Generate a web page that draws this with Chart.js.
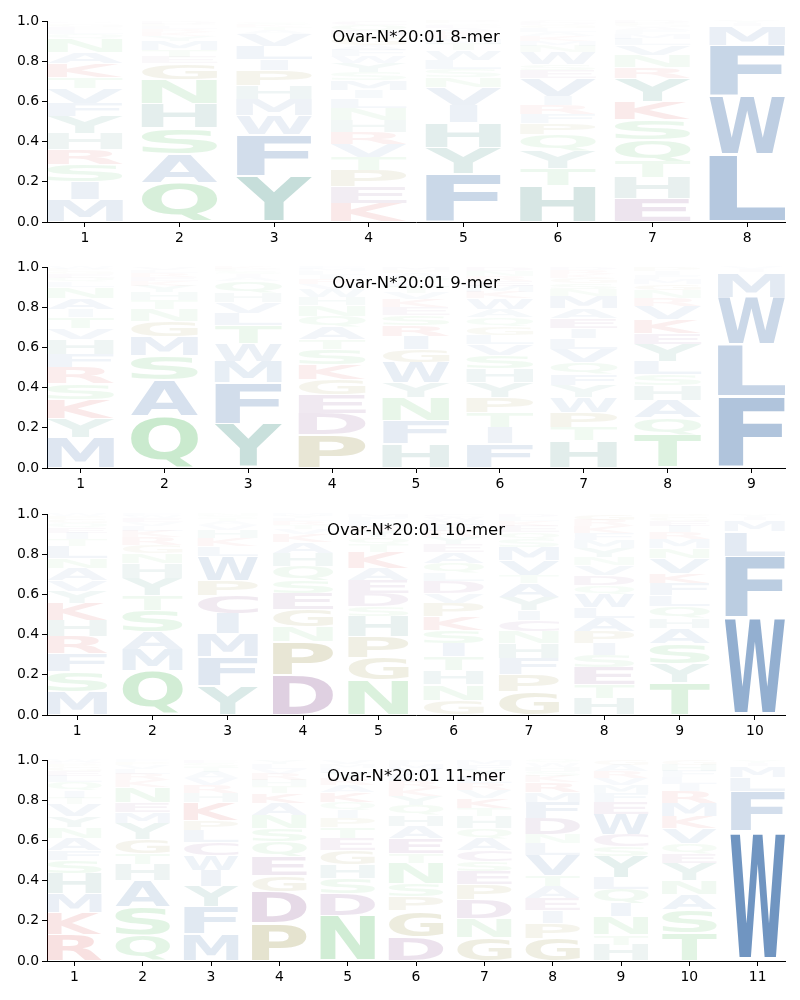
<!DOCTYPE html>
<html>
<head>
<meta charset="utf-8">
<script src="https://cdn.jsdelivr.net/npm/chart.js@4.4.1/dist/chart.umd.min.js"></script>
<style>
  body { margin:0; background:#fff; width:800px; height:1000px; position:relative; overflow:hidden; }
  canvas { position:absolute; left:0; }
</style>
</head>
<body>
<canvas id="c0" width="800" height="246" style="top:0px"></canvas>
<canvas id="c1" width="800" height="246" style="top:246px"></canvas>
<canvas id="c2" width="800" height="246" style="top:493px"></canvas>
<canvas id="c3" width="800" height="246" style="top:739px"></canvas>
<script>
const panelTitles = ['Ovar-N*20:01 8-mer', 'Ovar-N*20:01 9-mer', 'Ovar-N*20:01 10-mer', 'Ovar-N*20:01 11-mer'];

const letters8 = ['MISRHYFVTKANQLEGPDW', 'QASHNGETMYKRLPDV', 'YFWMHPILVATKSRG', 'KEPTVRHNLIMSYWFAGDQC',
  'FYHIVNSLWTMRKAEQP', 'HTYQPFRIVESWNMKALGDC', 'EHTQSKYRNVLMFAGPD', 'LWFMIY'];
const heights8 = [
  [0.11,0.09,0.085,0.075,0.08,0.085,0.065,0.075,0.055,0.07,0.055,0.065,0.025,0.02,0.015,0.012,0.008,0.006,0.004],
  [0.195,0.145,0.13,0.12,0.12,0.08,0.03,0.035,0.045,0.025,0.02,0.015,0.015,0.01,0.01,0.005],
  [0.23,0.205,0.095,0.08,0.07,0.075,0.055,0.065,0.06,0.02,0.015,0.01,0.01,0.005,0.005],
  [0.095,0.08,0.08,0.065,0.065,0.06,0.06,0.06,0.05,0.04,0.05,0.04,0.045,0.035,0.03,0.025,0.04,0.03,0.03,0.02],
  [0.24,0.13,0.125,0.085,0.09,0.05,0.04,0.045,0.05,0.03,0.025,0.02,0.02,0.015,0.015,0.01,0.01],
  [0.18,0.085,0.09,0.08,0.055,0.045,0.045,0.045,0.09,0.04,0.03,0.06,0.03,0.025,0.025,0.02,0.02,0.015,0.01,0.01],
  [0.115,0.105,0.08,0.11,0.1,0.09,0.115,0.055,0.06,0.05,0.03,0.025,0.02,0.015,0.01,0.01,0.01],
  [0.335,0.295,0.25,0.095,0.015,0.01]
];

const letters9 = ['MYKSRFHVTIANLQEGPW', 'QASMGNTHYKERLV', 'YFMWTLVHQAISPK', 'PDEGKSTAQNHWVRILMF',
  'HFNYWGIRSEKVTLQAPM', 'FITPYHSVLGQAWKMERND', 'HTPWYFQVLIEAMNSGKRD', 'TQAHSLYEKVRNGMFIP', 'FLWMIV'];
const heights9 = [
  [0.15,0.095,0.095,0.08,0.08,0.065,0.075,0.055,0.055,0.04,0.055,0.055,0.025,0.02,0.02,0.015,0.01,0.01],
  [0.26,0.18,0.12,0.095,0.075,0.06,0.045,0.04,0.03,0.025,0.02,0.02,0.015,0.015],
  [0.22,0.205,0.105,0.09,0.09,0.06,0.055,0.045,0.06,0.02,0.015,0.015,0.01,0.01],
  [0.165,0.105,0.095,0.075,0.075,0.075,0.05,0.06,0.055,0.055,0.04,0.04,0.025,0.025,0.02,0.02,0.01,0.01],
  [0.12,0.115,0.115,0.075,0.1,0.065,0.065,0.055,0.05,0.04,0.04,0.03,0.03,0.025,0.025,0.02,0.015,0.015],
  [0.12,0.08,0.075,0.075,0.075,0.07,0.065,0.055,0.045,0.045,0.045,0.04,0.055,0.03,0.03,0.025,0.025,0.025,0.02],
  [0.135,0.065,0.075,0.075,0.06,0.055,0.06,0.065,0.055,0.05,0.05,0.05,0.06,0.035,0.03,0.025,0.02,0.02,0.015],
  [0.165,0.085,0.085,0.075,0.055,0.065,0.085,0.055,0.07,0.065,0.04,0.04,0.03,0.025,0.02,0.02,0.02],
  [0.355,0.26,0.235,0.125,0.015,0.01]
];

const letters10 = ['MSFRHKYVANLTIEQGPW', 'QMASTYHNGRKLVEWF', 'YFMICPWLKHVATSN', 'DPNGESQHAKVTRLYM',
  'NGPHSDEAKTQYRLFM', 'GNHTISKPVDLQAEYRFMWC', 'GPFHNCIYATVMSQEKLD', 'HTESIPALWQDVNYMFKRG',
  'TYSAHQLFKVNMRIEGP', 'WFLMIYV'];
const heights10 = [
  [0.115,0.1,0.09,0.085,0.08,0.085,0.06,0.055,0.06,0.05,0.06,0.035,0.03,0.025,0.025,0.02,0.015,0.01],
  [0.22,0.105,0.09,0.105,0.075,0.085,0.075,0.05,0.04,0.04,0.03,0.025,0.02,0.02,0.01,0.01],
  [0.145,0.145,0.115,0.1,0.09,0.075,0.12,0.05,0.04,0.04,0.025,0.02,0.015,0.01,0.01],
  [0.2,0.165,0.075,0.085,0.08,0.065,0.07,0.065,0.055,0.04,0.025,0.02,0.02,0.015,0.01,0.01],
  [0.175,0.11,0.105,0.1,0.05,0.065,0.065,0.06,0.08,0.04,0.035,0.03,0.025,0.025,0.02,0.015],
  [0.075,0.075,0.07,0.07,0.065,0.065,0.07,0.065,0.05,0.06,0.04,0.05,0.055,0.04,0.035,0.03,0.03,0.025,0.015,0.015],
  [0.115,0.085,0.08,0.075,0.06,0.055,0.05,0.065,0.07,0.04,0.075,0.065,0.04,0.035,0.03,0.025,0.02,0.015],
  [0.085,0.065,0.085,0.06,0.06,0.06,0.065,0.055,0.065,0.045,0.05,0.05,0.04,0.045,0.04,0.035,0.035,0.03,0.03],
  [0.16,0.095,0.1,0.075,0.05,0.06,0.055,0.06,0.05,0.075,0.05,0.045,0.035,0.03,0.025,0.02,0.015],
  [0.485,0.305,0.125,0.055,0.015,0.01,0.005]
];

const letters11 = ['RKMHSFANYVTIQLEGPDW', 'QSAHTGYMENKRLVPF', 'MFYIWCLPKHRVATSE', 'PDGEQSNAKTHRVLY',
  'NDSHGETPIQKARYLMV', 'DGPSNTEAHQYKRLVMF', 'GNDPESCAQHTKVRLYFM', 'GPIEATVLNDFMRKSHWQ',
  'HTNIQLYSCWEFMVRAG', 'TSANYEQVKMRILFHG', 'WFLMIY'];
const heights11 = [
  [0.13,0.11,0.095,0.1,0.065,0.05,0.06,0.055,0.055,0.06,0.03,0.035,0.045,0.03,0.025,0.02,0.015,0.01,0.01],
  [0.13,0.14,0.13,0.08,0.055,0.07,0.08,0.055,0.05,0.075,0.035,0.03,0.025,0.02,0.015,0.01],
  [0.135,0.135,0.1,0.08,0.075,0.065,0.06,0.05,0.09,0.045,0.04,0.035,0.03,0.025,0.02,0.015],
  [0.19,0.155,0.08,0.095,0.075,0.065,0.065,0.06,0.05,0.035,0.03,0.03,0.025,0.025,0.02],
  [0.225,0.11,0.075,0.07,0.07,0.06,0.055,0.045,0.04,0.04,0.05,0.035,0.03,0.03,0.025,0.02,0.02],
  [0.12,0.13,0.07,0.065,0.1,0.05,0.075,0.06,0.055,0.05,0.045,0.04,0.035,0.03,0.03,0.025,0.02],
  [0.115,0.095,0.095,0.075,0.065,0.05,0.055,0.06,0.05,0.06,0.04,0.05,0.04,0.035,0.035,0.03,0.025,0.025],
  [0.115,0.075,0.06,0.06,0.06,0.055,0.1,0.06,0.045,0.08,0.08,0.05,0.05,0.03,0.025,0.02,0.02,0.015],
  [0.08,0.05,0.09,0.065,0.07,0.06,0.105,0.05,0.06,0.1,0.06,0.045,0.04,0.035,0.035,0.03,0.025],
  [0.14,0.115,0.075,0.07,0.085,0.05,0.05,0.075,0.06,0.065,0.06,0.035,0.035,0.03,0.03,0.025],
  [0.645,0.2,0.07,0.055,0.015,0.015]
];

const yTicks = [0, 0.2, 0.4, 0.6, 0.8, 1.0];

// residue colour groups (drawn with alpha = frequency)
const groupColors = {
  blue: [33, 90, 158], green: [50, 175, 65], red: [200, 25, 25],
  purple: [95, 20, 105], olive: [115, 105, 0], teal: [10, 112, 95], tealH: [35, 118, 108]
};
const residueGroup = {
  A:'blue', C:'purple', D:'purple', E:'purple', F:'blue', G:'olive', H:'tealH', I:'blue', K:'red', L:'blue',
  M:'blue', N:'green', P:'olive', Q:'green', R:'red', S:'green', T:'green', V:'blue', W:'blue', Y:'teal'
};
function colorFor(ch, h){
  const c = groupColors[residueGroup[ch]] || [120,120,120];
  return `rgba(${c[0]},${c[1]},${c[2]},${Math.min(1, h)})`;
}

const GLYPH_FONT = 'bold 200px "DejaVu Sans"';
const measureCtx = document.createElement('canvas').getContext('2d');
const metricCache = {};
function glyphMetrics(ch){
  if(!metricCache[ch]){
    measureCtx.font = GLYPH_FONT;
    const m = measureCtx.measureText(ch);
    metricCache[ch] = { l: m.actualBoundingBoxLeft, r: m.actualBoundingBoxRight, a: m.actualBoundingBoxAscent, d: m.actualBoundingBoxDescent };
  }
  return metricCache[ch];
}

// stretch each glyph into its stacked bar box
const logoPlugin = {
  id: 'logoLetters',
  afterDatasetsDraw(chart){
    const ctx = chart.ctx, area = chart.chartArea;
    const xs = chart.scales.x;
    const slot = Math.abs(xs.getPixelForValue(2) - xs.getPixelForValue(1));
    const w = slot * 0.8;
    const gE = glyphMetrics('E');
    const refW = gE.l + gE.r;
    ctx.save();
    ctx.beginPath();
    ctx.rect(area.left, area.top - 1, area.right - area.left, area.bottom - area.top + 1);
    ctx.clip();
    ctx.font = GLYPH_FONT;
    ctx.textAlign = 'left';
    ctx.textBaseline = 'alphabetic';
    chart.data.datasets.forEach((ds, di) => {
      const meta = chart.getDatasetMeta(di);
      meta.data.forEach((bar, i) => {
        const ch = ds.letters[i];
        const h = ds.data[i].y;
        if(!ch || !h) return;
        const p = bar.getProps(['x', 'y', 'base'], true);
        const full = p.base - p.y;
        const pad = full * 0.025;
        const hh = full - 2 * pad;
        if(hh <= 0) return;
        const g = glyphMetrics(ch);
        const inkW = g.l + g.r;
        const useW = Math.max(inkW, refW);
        ctx.save();
        ctx.translate(p.x - w / 2, p.y + pad);
        ctx.scale(w / useW, hh / (g.a + g.d));
        ctx.fillStyle = colorFor(ch, h);
        ctx.fillText(ch, g.l + (useW - inkW) / 2, g.a);
        ctx.restore();
      });
    });
    ctx.restore();
  }
};

const titlePlugin = {
  id: 'innerTitle',
  afterDraw(chart, args, opts){
    const ctx = chart.ctx, area = chart.chartArea;
    ctx.save();
    ctx.font = '16.5px "DejaVu Sans"';
    ctx.fillStyle = '#000';
    ctx.textAlign = 'center';
    ctx.textBaseline = 'alphabetic';
    ctx.fillText(opts.text, (area.left + area.right) / 2, area.top + 21);
    ctx.restore();
  }
};

function makeLogo(canvasId, title, letters, heights){
  const positions = letters.map((_, i) => i + 1);
  const depth = Math.max(...letters.map(s => s.length));
  const datasets = [];
  for(let k = 0; k < depth; k++){
    datasets.push({
      letters: letters.map(s => s[k] || ''),
      data: positions.map((x, i) => ({ x: x, y: heights[i][k] || 0 })),
      backgroundColor: 'rgba(0,0,0,0)',
      borderWidth: 0
    });
  }
  const axisFont = { family: 'DejaVu Sans', size: 13.9 };
  const tickGrid = { display: true, offset: false, drawOnChartArea: false, drawTicks: true, tickLength: 5, color: '#000', lineWidth: 1 };
  new Chart(document.getElementById(canvasId), {
    type: 'bar',
    data: { datasets },
    options: {
      responsive: false,
      animation: false,
      devicePixelRatio: 1,
      layout: { padding: { top: 21, right: 15, left: 0, bottom: 0 } },
      datasets: { bar: { categoryPercentage: 1, barPercentage: 0.8 } },
      plugins: { legend: { display: false }, tooltip: { enabled: false }, innerTitle: { text: title } },
      scales: {
        x: {
          type: 'linear', min: 0.6, max: positions.length + 0.4, offset: false, stacked: true,
          afterBuildTicks: s => { s.ticks = positions.map(v => ({ value: v })); },
          afterFit: s => { s.height = 24; },
          grid: tickGrid,
          border: { display: true, color: '#000', width: 1 },
          ticks: { font: axisFont, color: '#000', padding: 3, maxRotation: 0, autoSkip: false, callback: v => String(v) }
        },
        y: {
          min: 0, max: 1, stacked: true,
          afterBuildTicks: s => { s.ticks = yTicks.map(v => ({ value: v })); },
          afterFit: s => { s.width = 47; },
          grid: tickGrid,
          border: { display: true, color: '#000', width: 1 },
          ticks: { font: axisFont, color: '#000', padding: 3, callback: v => Number(v).toFixed(1) }
        }
      }
    },
    plugins: [logoPlugin, titlePlugin]
  });
}

makeLogo('c0', panelTitles[0], letters8, heights8);
makeLogo('c1', panelTitles[1], letters9, heights9);
makeLogo('c2', panelTitles[2], letters10, heights10);
makeLogo('c3', panelTitles[3], letters11, heights11);
</script>
</body>
</html>
